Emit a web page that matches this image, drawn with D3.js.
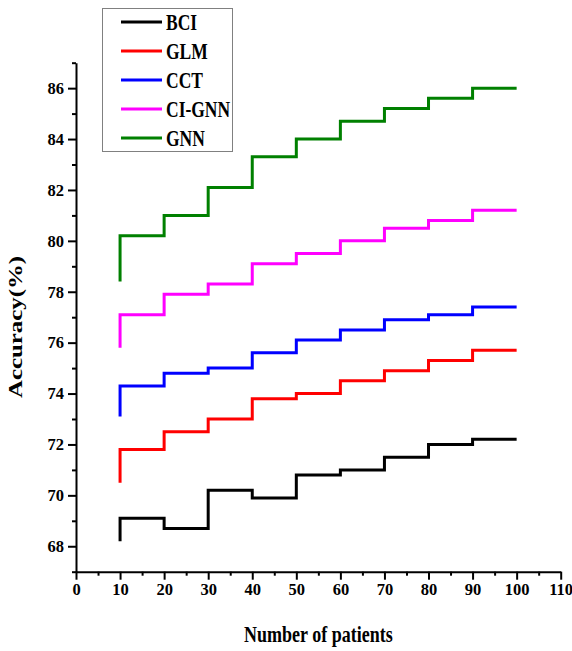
<!DOCTYPE html>
<html>
<head>
<meta charset="utf-8">
<script src="https://cdn.jsdelivr.net/npm/d3@7"></script>
<style>
  body { margin: 0; background: #fff; }
  svg { display: block; }
  text { font-family: "Liberation Serif", "Times New Roman", serif; font-weight: bold; }
</style>
</head>
<body>
<svg id="chart" width="572" height="651"></svg>
<script>
// data
const methods = ["BCI", "GLM", "CCT", "CI-GNN", "GNN"];
const colors = ["#000000", "#ff0000", "#0000ff", "#ff00ff", "#008000"];
const patients = [10, 20, 30, 40, 50, 60, 70, 80, 90, 100];
// value where each line starts at 10 patients
const startVals = [68.2, 70.5, 73.1, 75.8, 78.4];
// level held over each step 10-20, 20-30, ... 90-100
const bciVals = [69.1, 68.7, 70.2, 69.9, 70.8, 71.0, 71.5, 72.0, 72.2];
const glmVals = [71.8, 72.5, 73.0, 73.8, 74.0, 74.5, 74.9, 75.3, 75.7];
const cctVals = [74.3, 74.8, 75.0, 75.6, 76.1, 76.5, 76.9, 77.1, 77.4];
const ciGnnVals = [77.1, 77.9, 78.3, 79.1, 79.5, 80.0, 80.5, 80.8, 81.2];
const gnnVals = [80.2, 81.0, 82.1, 83.3, 84.0, 84.7, 85.2, 85.6, 86.0];
const xTicks = [0, 10, 20, 30, 40, 50, 60, 70, 80, 90, 100, 110];
const yTicks = [68, 70, 72, 74, 76, 78, 80, 82, 84, 86];

const seriesVals = [bciVals, glmVals, cctVals, ciGnnVals, gnnVals];

const svg = d3.select("#chart");

// scales
const x = d3.scaleLinear().domain([0, 110]).range([76, 560.7]);
const y = d3.scaleLinear().domain([67, 87]).range([571.7, 62.7]);

// minor ticks first
svg.append("g")
  .attr("transform", `translate(0, ${y(67)})`)
  .call(d3.axisBottom(x).tickValues(d3.range(5, 110, 10)).tickSize(4).tickSizeOuter(0).tickFormat(""))
  .call(g => g.select(".domain").remove())
  .call(g => g.selectAll("line").attr("stroke-width", 2));

svg.append("g")
  .attr("transform", `translate(${x(0)}, 0)`)
  .call(d3.axisLeft(y).tickValues(d3.range(67, 88, 2)).tickSize(4).tickSizeOuter(0).tickFormat(""))
  .call(g => g.select(".domain").remove())
  .call(g => g.selectAll("line").attr("stroke-width", 2));

// x-axis //
const xAxis = svg.append("g")
  .attr("transform", `translate(0, ${y(67)})`)
  .call(d3.axisBottom(x).tickValues(xTicks).tickSize(8).tickSizeOuter(0).tickPadding(4));

xAxis.select(".domain").attr("stroke-width", 2);
xAxis.selectAll("line").attr("stroke-width", 2);
xAxis.selectAll("text")
  .style("font-size", "16.5px")
  .style("font-family", "'Liberation Serif', serif")
  .style("font-weight", "bold")
  .attr("fill", "#000");

// y-axis //
const yAxis = svg.append("g")
  .attr("transform", `translate(${x(0)}, 0)`)
  .call(d3.axisLeft(y).tickValues(yTicks).tickSize(8).tickSizeOuter(0).tickPadding(4));

yAxis.select(".domain").attr("stroke-width", 2);
yAxis.selectAll("line").attr("stroke-width", 2);
yAxis.selectAll("text")
  .style("font-size", "16.5px")
  .style("font-family", "'Liberation Serif', serif")
  .style("font-weight", "bold")
  .attr("fill", "#000");

// axis titles (the reference is stretched vertically)
svg.append("text")
  .attr("transform", `translate(${(x(0) + x(110)) / 2}, 642) scale(1, 1.3)`)
  .style("text-anchor", "middle")
  .style("font-size", "18px")
  .text("Number of patients");

svg.append("text")
  .attr("transform", `translate(22, 327) rotate(-90) scale(1.38, 1)`)
  .style("text-anchor", "middle")
  .style("font-size", "18px")
  .text("Accuracy(%)");

// step lines //
const line = d3.line()
  .x(d => x(d.x))
  .y(d => y(d.v))
  .curve(d3.curveStepAfter);

const lines = svg.append("g");

methods.forEach((m, i) => {
  const vals = seriesVals[i];
  const pts = [{x: patients[0], v: startVals[i]}];
  vals.forEach((v, j) => pts.push({x: patients[j], v: v}));
  pts.push({x: patients[patients.length - 1], v: vals[vals.length - 1]});

  lines.append("path")
    .datum(pts)
    .attr("d", line)
    .attr("fill", "none")
    .attr("stroke", colors[i])
    .attr("stroke-width", 3);
});

// legend //
const legend = svg.append("g");

legend.append("rect")
  .attr("x", 102.5)
  .attr("y", 8.5)
  .attr("width", 130)
  .attr("height", 143)
  .attr("fill", "#fff")
  .attr("stroke", "#808080")
  .attr("stroke-width", 1);

methods.forEach((m, i) => {
  const ly = 22 + i * 29;
  legend.append("line")
    .attr("x1", 121)
    .attr("x2", 162)
    .attr("y1", ly)
    .attr("y2", ly)
    .attr("stroke", colors[i])
    .attr("stroke-width", 3);

  legend.append("text")
    .attr("transform", `translate(166, ${ly + 7.5}) scale(1, 1.3)`)
    .style("font-size", "17.5px")
    .text(m);
});
</script>
</body>
</html>
